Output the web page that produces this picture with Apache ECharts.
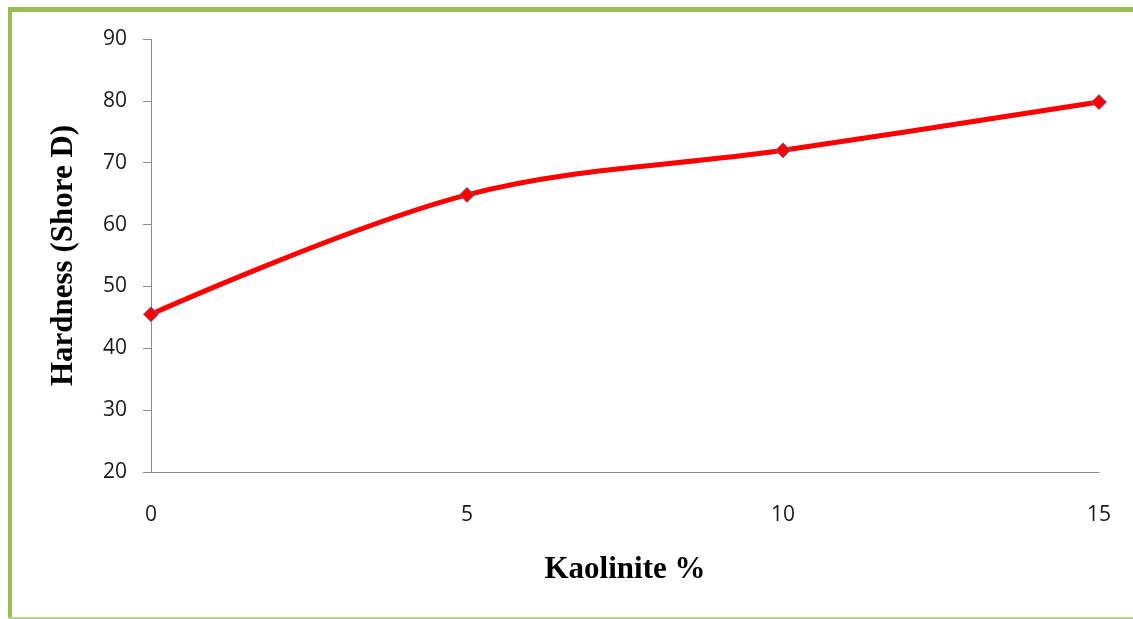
<!DOCTYPE html>
<html>
<head>
<meta charset="utf-8">
<script src="https://cdn.jsdelivr.net/npm/echarts@6/dist/echarts.min.js"></script>
<style>
  html, body { margin: 0; padding: 0; background: #fff; }
  #chart { width: 1133px; height: 619px; }
</style>
</head>
<body>
<div id="chart"></div>
<script>
// Kaolinite content (%) and measured Shore D hardness
const kaolinite = [0, 5, 10, 15];
const hardness = [45.5, 64.8, 72, 79.8];
const xTicks = [0, 5, 10, 15];
const yTicks = [20, 30, 40, 50, 60, 70, 80, 90];

const chart = echarts.init(document.getElementById('chart'));

const frameGreen = '#9BBB59';

chart.setOption({
  animation: false,
  backgroundColor: '#fff',
  graphic: [
    { type: 'rect', shape: { x: 8, y: 7, width: 1125, height: 5 }, style: { fill: frameGreen } },
    { type: 'rect', shape: { x: 8, y: 7, width: 4, height: 612 }, style: { fill: frameGreen } },
    { type: 'rect', shape: { x: 8, y: 617, width: 1125, height: 2 }, style: { fill: '#b9d38f' } }
  ],
  grid: { left: 151, right: 34, top: 39, bottom: 147 },
  xAxis: {
    type: 'value',
    min: xTicks[0],
    max: xTicks[xTicks.length - 1],
    interval: 5,
    name: 'Kaolinite %',
    nameLocation: 'middle',
    nameGap: 82,
    nameTextStyle: { fontFamily: 'Liberation Serif', fontWeight: 'bold', fontSize: 31, color: '#000' },
    axisLine: { lineStyle: { color: '#8c8c8c', width: 1 } },
    axisTick: { show: false },
    splitLine: { show: false },
    axisLabel: { margin: 33, fontFamily: 'Open Sans', fontSize: 21, color: '#1a1a1a' }
  },
  yAxis: {
    type: 'value',
    min: yTicks[0],
    max: yTicks[yTicks.length - 1],
    interval: 10,
    name: 'Hardness (Shore D)',
    nameLocation: 'middle',
    nameGap: 72,
    nameTextStyle: { fontFamily: 'Liberation Serif', fontWeight: 'bold', fontSize: 31, color: '#000' },
    axisLine: { show: true, lineStyle: { color: '#8c8c8c', width: 1 } },
    axisTick: { show: true, length: 8, lineStyle: { color: '#8c8c8c' } },
    splitLine: { show: false },
    axisLabel: { margin: 24, fontFamily: 'Open Sans', fontSize: 21, color: '#1a1a1a' }
  },
  series: [{
    type: 'line',
    data: kaolinite.map((k, i) => [k, hardness[i]]),
    smooth: 0.35,
    symbol: 'diamond',
    symbolSize: 15,
    lineStyle: { color: '#ff0000', width: 5 },
    itemStyle: { color: '#ff0000', borderColor: '#5a6aa8', borderWidth: 1 }
  }]
});
</script>
</body>
</html>
